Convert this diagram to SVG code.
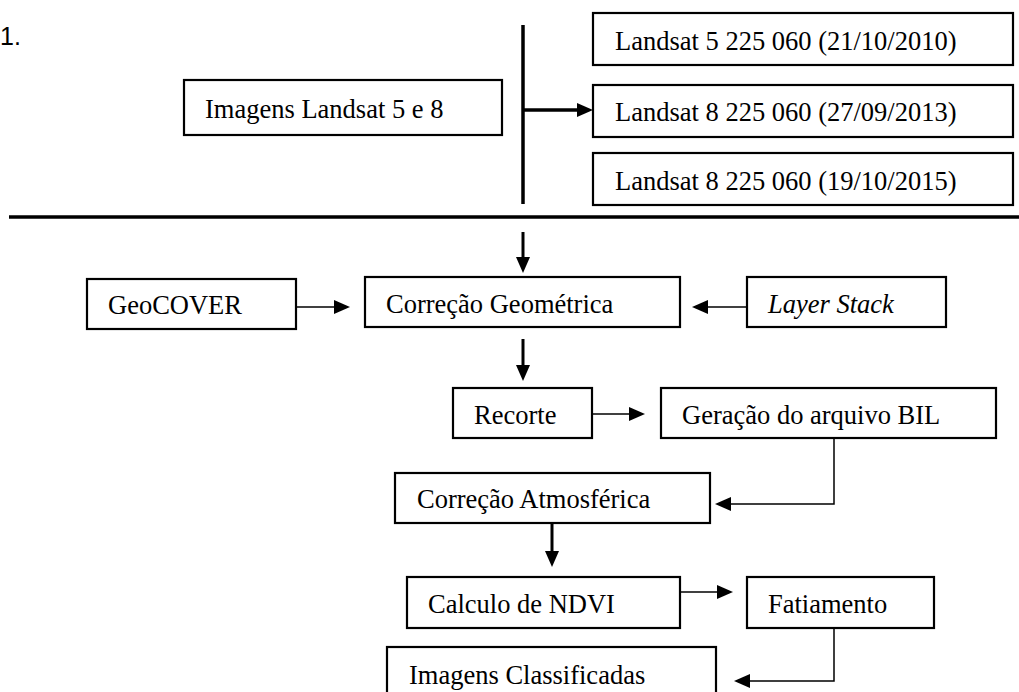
<svg xmlns="http://www.w3.org/2000/svg" width="1019" height="692" viewBox="0 0 1019 692">
  <style>
    .box { fill: #fff; stroke: #000; stroke-width: 2.2; }
    .lbl { font-family: "Liberation Serif", "Times New Roman", serif; font-size: 26.5px; fill: #000; }
    .it { font-style: italic; }
    .thick { stroke: #000; stroke-width: 3.5; fill: none; }
    .med { stroke: #000; stroke-width: 3; fill: none; }
    .thin { stroke: #000; stroke-width: 1.5; fill: none; }
  </style>
  <defs>
    <marker id="ah" markerUnits="userSpaceOnUse" markerWidth="16" markerHeight="14" refX="8" refY="7" orient="auto">
      <path d="M0,0 L16,7 L0,14 z" fill="#000"/>
    </marker>
  </defs>
  <rect width="1019" height="692" fill="#fff"/>

  <text x="0" y="45" font-family="Liberation Sans, Arial, sans-serif" font-size="25" fill="#000">1.</text>

  <g id="connectors">
    <line class="thick" x1="523" y1="25" x2="523" y2="204"/>
    <line class="thick" x1="523" y1="110" x2="585" y2="110" marker-end="url(#ah)"/>
    <line class="thick" x1="9" y1="217" x2="1019" y2="217"/>
    <line class="med" x1="523" y1="232" x2="523" y2="265" marker-end="url(#ah)"/>
    <line class="thin" x1="296" y1="307" x2="342" y2="307" marker-end="url(#ah)"/>
    <line class="thin" x1="747" y1="307" x2="700" y2="307" marker-end="url(#ah)"/>
    <line class="med" x1="523" y1="339" x2="523" y2="373" marker-end="url(#ah)"/>
    <line class="thin" x1="592" y1="414" x2="637" y2="414" marker-end="url(#ah)"/>
    <polyline class="thin" points="834,438 834,504 723,504" marker-end="url(#ah)"/>
    <line class="med" x1="552" y1="523" x2="552" y2="559" marker-end="url(#ah)"/>
    <line class="thin" x1="680" y1="592" x2="725" y2="592" marker-end="url(#ah)"/>
    <polyline class="thin" points="834,628 834,681 742,681" marker-end="url(#ah)"/>
  </g>

  <g id="n-imagens">
    <rect class="box" x="184" y="80" width="318" height="55"/>
    <text class="lbl" x="205" y="118">Imagens Landsat 5 e 8</text>
  </g>
  <g id="n-l5-2010">
    <rect class="box" x="593" y="13" width="420" height="52"/>
    <text class="lbl" x="615" y="50">Landsat 5 225 060 (21/10/2010)</text>
  </g>
  <g id="n-l8-2013">
    <rect class="box" x="593" y="85" width="420" height="52"/>
    <text class="lbl" x="615" y="121">Landsat 8 225 060 (27/09/2013)</text>
  </g>
  <g id="n-l8-2015">
    <rect class="box" x="593" y="153" width="420" height="52"/>
    <text class="lbl" x="615" y="190">Landsat 8 225 060 (19/10/2015)</text>
  </g>
  <g id="n-geocover">
    <rect class="box" x="87" y="279" width="209" height="50"/>
    <text class="lbl" x="108" y="314">GeoCOVER</text>
  </g>
  <g id="n-corr-geom">
    <rect class="box" x="365" y="277" width="315" height="50"/>
    <text class="lbl" x="386" y="313">Correção Geométrica</text>
  </g>
  <g id="n-layerstack">
    <rect class="box" x="747" y="277" width="199" height="50"/>
    <text class="lbl it" x="768" y="313">Layer Stack</text>
  </g>
  <g id="n-recorte">
    <rect class="box" x="453" y="388" width="139" height="50"/>
    <text class="lbl" x="474" y="424">Recorte</text>
  </g>
  <g id="n-bil">
    <rect class="box" x="661" y="388" width="335" height="50"/>
    <text class="lbl" x="682" y="424">Geração do arquivo BIL</text>
  </g>
  <g id="n-corr-atm">
    <rect class="box" x="395" y="473" width="315" height="50"/>
    <text class="lbl" x="417" y="508">Correção Atmosférica</text>
  </g>
  <g id="n-ndvi">
    <rect class="box" x="407" y="577" width="273" height="51"/>
    <text class="lbl" x="428" y="613">Calculo de NDVI</text>
  </g>
  <g id="n-fatiamento">
    <rect class="box" x="747" y="577" width="187" height="51"/>
    <text class="lbl" x="768" y="613">Fatiamento</text>
  </g>
  <g id="n-classificadas">
    <rect class="box" x="387" y="647" width="329" height="60"/>
    <text class="lbl" x="409" y="684">Imagens Classificadas</text>
  </g>
</svg>
